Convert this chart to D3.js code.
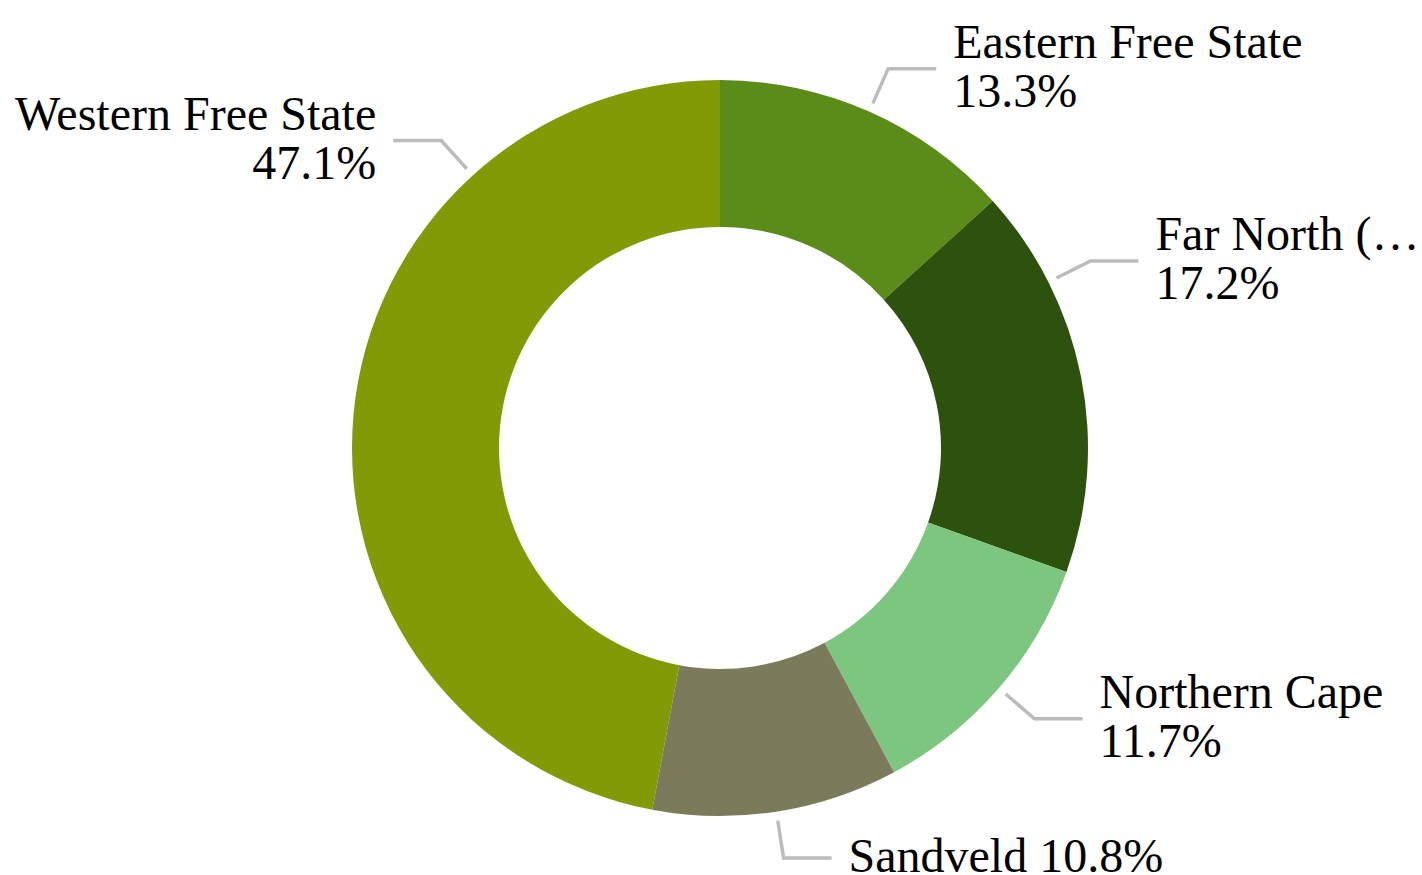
<!DOCTYPE html>
<html>
<head>
<meta charset="utf-8">
<script src="https://cdn.jsdelivr.net/npm/d3@7"></script>
<style>
  body { margin: 0; background: #fff; }
  svg text { font-family: "Liberation Serif", "Times New Roman", serif; fill: #000; }
</style>
</head>
<body>
<svg id="chart" width="1422" height="875"></svg>
<script>
// Region shares (percent), clockwise from 12 o'clock
const regions = ['Eastern Free State', 'Far North (…', 'Northern Cape', 'Sandveld', 'Western Free State'];
const shares = [13.3, 17.2, 11.7, 10.8, 47.1];
const colors = ['#5b8c19', '#2c520e', '#7dc67f', '#7b7a5b', '#819a06'];

// label placement: attach angle in degrees (null = slice middle), side, single line or two
const labelAngle = [null, 63.2, null, null, 317.8];
const labelSide = [1, 1, 1, 1, -1];
const labelOneLine = [false, false, false, true, false];

const W = 1422, H = 875;
const cx = 720, cy = 448;
const rOuter = 368, rInner = 221;

const svg = d3.select('#chart');
const g = svg.append('g').attr('transform', `translate(${cx},${cy})`);

const pie = d3.pie().sort(null).value(d => d.value);
const data = regions.map((name, i) => ({ name, value: shares[i], i }));
const arcs = pie(data);

const arc = d3.arc().innerRadius(rInner).outerRadius(rOuter);

g.selectAll('path.slice')
  .data(arcs)
  .enter().append('path')
  .attr('class', 'slice')
  .attr('d', arc)
  .attr('fill', d => colors[d.data.i]);

/*
  leader lines: radial stub, then horizontal run to the text
*/
function polar(angleDeg, r) {
  const a = angleDeg * Math.PI / 180;
  return [Math.sin(a) * r, -Math.cos(a) * r];
}

const labels = g.selectAll('g.label')
  .data(arcs)
  .enter().append('g')
  .attr('class', 'label');

labels.each(function(d) {
  const i = d.data.i;
  const mid = (d.startAngle + d.endAngle) / 2 * 180 / Math.PI;
  const ang = labelAngle[i] == null ? mid : labelAngle[i];
  const side = labelSide[i];
  const p0 = polar(ang, rOuter + 9);
  const p1 = polar(ang, rOuter + 47);
  const p2 = [p1[0] + side * 48, p1[1]];
  const sel = d3.select(this);

  sel.append('polyline')
    .attr('points', [p0, p1, p2].map(p => p.join(',')).join(' '))
    .attr('fill', 'none')
    .attr('stroke', '#bcbcbc')
    .attr('stroke-width', 3.5);

  const tx = p2[0] + side * 17;
  const pct = d3.format('.1f')(d.data.value) + '%';
  const text = sel.append('text')
    .attr('x', tx)
    .attr('text-anchor', side > 0 ? 'start' : 'end')
    .style('font-size', '48px');

  if (labelOneLine[i]) {
    text.attr('y', p2[1] + 14).text(d.data.name + ' ' + pct);
  } else {
    text.append('tspan').attr('x', tx).attr('y', p2[1] - 11).text(d.data.name);
    text.append('tspan').attr('x', tx).attr('y', p2[1] + 38).text(pct);
  }
});
</script>
</body>
</html>
